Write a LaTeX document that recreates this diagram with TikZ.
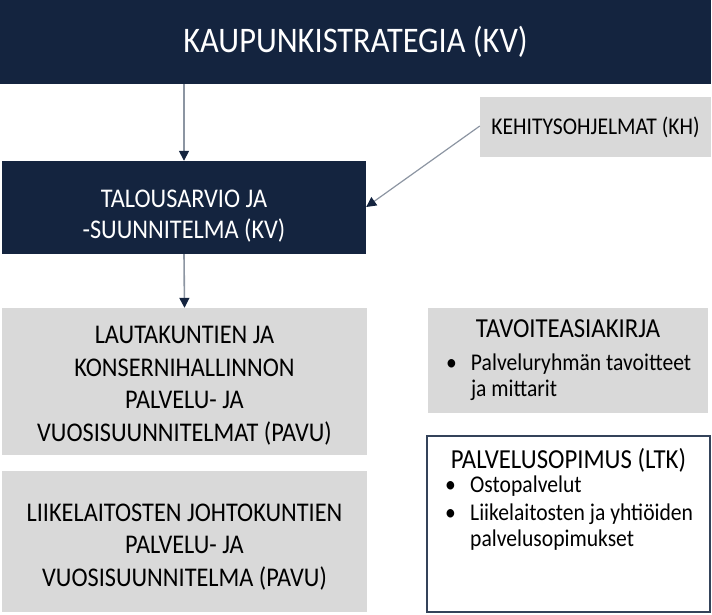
\documentclass[tikz,border=0pt]{standalone}
\usepackage{fontspec}
\setmainfont{Carlito}[FakeStretch=0.9]
\usetikzlibrary{positioning,arrows.meta}

\definecolor{navy}{HTML}{14243F}
\definecolor{boxgray}{HTML}{D9D9D9}
\definecolor{linegray}{HTML}{8C95A2}
\definecolor{framecol}{HTML}{34435A}

\newcommand{\bul}{\makebox[25pt][l]{\textbullet}}
\newcommand{\ind}{\hspace*{25pt}}

\tikzset{
  darkbox/.style={fill=navy, text=white, inner sep=0pt, align=center},
  graybox/.style={fill=boxgray, inner sep=0pt, align=center},
  bigtxt/.style={font=\fontsize{27}{32.5}\selectfont},
  headtxt/.style={font=\fontsize{27.5}{31}\selectfont, inner sep=0pt},
  listtxt/.style={font=\fontsize{24}{25.5}\selectfont, inner sep=0pt, align=left},
  flow/.style={draw=linegray, line width=1.6pt, -{Triangle[length=10pt,width=10pt,color=navy]}},
}

\begin{document}
\begin{tikzpicture}[x=1pt,y=-1pt]
\useasboundingbox (0,0) rectangle (712,615);

% left column
\node[darkbox, minimum width=711pt, minimum height=84pt, font=\fontsize{36}{40}\selectfont] (strat) at (355.5,42) {KAUPUNKISTRATEGIA (KV)};
\node[darkbox, font=\fontsize{27}{31}\selectfont, minimum width=364pt, minimum height=93pt] (budget) at (184,207.5) {\rule{0pt}{34pt}TALOUSARVIO JA\\-SUUNNITELMA (KV)};
\node[graybox, bigtxt, minimum width=365pt, minimum height=147pt] (pavu) at (184.5,381.5) {\rule{0pt}{26pt}LAUTAKUNTIEN JA\\KONSERNIHALLINNON\\PALVELU- JA\\VUOSISUUNNITELMAT (PAVU)};
\node[graybox, bigtxt, minimum width=365pt, minimum height=141pt] (lpavu) at (184.5,541.5) {\rule{0pt}{28pt}LIIKELAITOSTEN JOHTOKUNTIEN\\PALVELU- JA\\VUOSISUUNNITELMA (PAVU)};

% right column
\node[graybox, minimum width=231pt, minimum height=60pt, font=\fontsize{24}{27}\selectfont] (kh) at (595.5,127) {KEHITYSOHJELMAT (KH)};
\node[graybox, minimum width=280pt, minimum height=105pt] (tavo) at (568,360.5) {};
\node[headtxt] (tavohead) at ([yshift=-21pt]tavo.north) {TAVOITEASIAKIRJA};
\node[listtxt, anchor=north west] (tavolist) at ([xshift=18pt,yshift=-46pt]tavo.north west) {\bul Palveluryhmän tavoitteet\\\ind ja mittarit};

\node[draw=framecol, line width=2pt, fill=white, minimum width=283pt, minimum height=176pt, inner sep=0pt] (ltk) at (568.5,524) {};
\node[headtxt] (ltkhead) at ([yshift=-25pt]ltk.north) {PALVELUSOPIMUS (LTK)};
\node[listtxt, anchor=north west] (ltklist) at ([xshift=19pt,yshift=-41pt]ltk.north west) {\bul Ostopalvelut\\[2.5pt]\bul Liikelaitosten ja yhtiöiden\\\ind palvelusopimukset};

% arrows
\draw[flow] (strat.south -| budget.north) -- (budget.north);
\draw[flow] (budget.south) -- (pavu.north);
\coordinate (khin) at ([yshift=1pt]kh.west);
\coordinate (budin) at ([yshift=0.5pt]budget.east);
\draw[flow, line width=1.2pt] (khin) -- (budin);
\end{tikzpicture}
\end{document}
